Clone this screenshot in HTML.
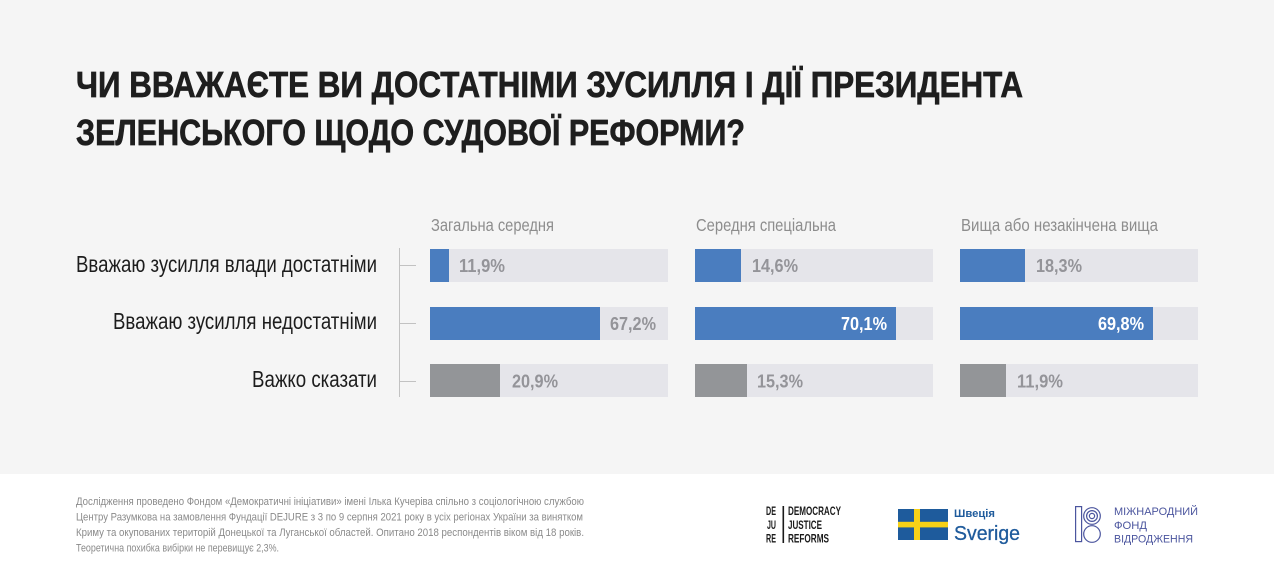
<!DOCTYPE html>
<html>
<head>
<meta charset="utf-8">
<style>
  html, body { margin: 0; padding: 0; }
  body { width: 1274px; height: 573px; overflow: hidden; background: #f5f5f5; }
  svg { display: block; }
  text { font-family: "Liberation Sans Narrow", "Liberation Sans", "DejaVu Sans", sans-serif; }
</style>
</head>
<body>
<svg width="1274" height="573" viewBox="0 0 1274 573" xmlns="http://www.w3.org/2000/svg">
  <rect x="0" y="0" width="1274" height="474" fill="#f5f5f5"/>
  <rect x="0" y="474" width="1274" height="99" fill="#ffffff"/>

  <!-- Title -->
  <g font-size="36" font-weight="bold" fill="#1e1e1e" stroke="#1e1e1e" stroke-width="0.7">
    <text x="76" y="97" textLength="947" lengthAdjust="spacingAndGlyphs">ЧИ ВВАЖАЄТЕ ВИ ДОСТАТНІМИ ЗУСИЛЛЯ І ДІЇ ПРЕЗИДЕНТА</text>
    <text x="76" y="145" textLength="669" lengthAdjust="spacingAndGlyphs">ЗЕЛЕНСЬКОГО ЩОДО СУДОВОЇ РЕФОРМИ?</text>
  </g>

  <!-- Column headers -->
  <g font-size="17.5" fill="#8d8d8d">
    <text x="431" y="231" textLength="123" lengthAdjust="spacingAndGlyphs">Загальна середня</text>
    <text x="696" y="231" textLength="140" lengthAdjust="spacingAndGlyphs">Середня спеціальна</text>
    <text x="961" y="231" textLength="197" lengthAdjust="spacingAndGlyphs">Вища або незакінчена вища</text>
  </g>

  <!-- Row labels -->
  <g font-size="23" fill="#1d1d1d">
    <text x="76" y="272" textLength="301" lengthAdjust="spacingAndGlyphs">Вважаю зусилля влади достатніми</text>
    <text x="113" y="329" textLength="264" lengthAdjust="spacingAndGlyphs">Вважаю зусилля недостатніми</text>
    <text x="252" y="387" textLength="125" lengthAdjust="spacingAndGlyphs">Важко сказати</text>
  </g>

  <!-- Axis -->
  <g stroke="#c2c2c2" stroke-width="1">
    <line x1="399.5" y1="248" x2="399.5" y2="397"/>
    <line x1="399" y1="265.5" x2="416" y2="265.5"/>
    <line x1="399" y1="323.5" x2="416" y2="323.5"/>
    <line x1="399" y1="381.5" x2="416" y2="381.5"/>
  </g>

  <!-- Tracks -->
  <g fill="#e5e5ea">
    <rect x="430" y="249" width="238" height="33"/>
    <rect x="430" y="307" width="238" height="33"/>
    <rect x="430" y="364" width="238" height="33"/>
    <rect x="695" y="249" width="238" height="33"/>
    <rect x="695" y="307" width="238" height="33"/>
    <rect x="695" y="364" width="238" height="33"/>
    <rect x="960" y="249" width="238" height="33"/>
    <rect x="960" y="307" width="238" height="33"/>
    <rect x="960" y="364" width="238" height="33"/>
  </g>

  <!-- Bars -->
  <g fill="#4a7dbf">
    <rect x="430" y="249" width="19" height="33"/>
    <rect x="430" y="307" width="170" height="33"/>
    <rect x="695" y="249" width="46" height="33"/>
    <rect x="695" y="307" width="201" height="33"/>
    <rect x="960" y="249" width="65" height="33"/>
    <rect x="960" y="307" width="193" height="33"/>
  </g>
  <g fill="#939598">
    <rect x="430" y="364" width="70" height="33"/>
    <rect x="695" y="364" width="52" height="33"/>
    <rect x="960" y="364" width="46" height="33"/>
  </g>

  <!-- Values -->
  <g font-size="18" font-weight="bold" fill="#949499">
    <text x="459" y="272" textLength="46" lengthAdjust="spacingAndGlyphs">11,9%</text>
    <text x="610" y="330" textLength="46" lengthAdjust="spacingAndGlyphs">67,2%</text>
    <text x="512" y="387.5" textLength="46" lengthAdjust="spacingAndGlyphs">20,9%</text>
    <text x="752" y="272" textLength="46" lengthAdjust="spacingAndGlyphs">14,6%</text>
    <text x="757" y="387.5" textLength="46" lengthAdjust="spacingAndGlyphs">15,3%</text>
    <text x="1036" y="272" textLength="46" lengthAdjust="spacingAndGlyphs">18,3%</text>
    <text x="1017" y="387.5" textLength="46" lengthAdjust="spacingAndGlyphs">11,9%</text>
  </g>
  <g font-size="18" font-weight="bold" fill="#ffffff">
    <text x="841" y="330" textLength="46" lengthAdjust="spacingAndGlyphs">70,1%</text>
    <text x="1098" y="330" textLength="46" lengthAdjust="spacingAndGlyphs">69,8%</text>
  </g>

  <!-- Footer text -->
  <g font-size="11" fill="#8a8a8a">
    <text x="76" y="505" textLength="508" lengthAdjust="spacingAndGlyphs">Дослідження проведено Фондом «Демократичні ініціативи» імені Ілька Кучеріва спільно з соціологічною службою</text>
    <text x="76" y="520.5" textLength="507" lengthAdjust="spacingAndGlyphs">Центру Разумкова на замовлення Фундації DEJURE з 3 по 9 серпня 2021 року в усіх регіонах України за винятком</text>
    <text x="76" y="536" textLength="508" lengthAdjust="spacingAndGlyphs">Криму та окупованих територій Донецької та Луганської областей. Опитано 2018  респондентів віком від 18 років.</text>
    <text x="76" y="551.5" textLength="203" lengthAdjust="spacingAndGlyphs">Теоретична похибка вибірки не перевищує 2,3%.</text>
  </g>

  <!-- DEJURE logo -->
  <g font-size="12" font-weight="bold" fill="#1a1a1a">
    <text x="766" y="515" textLength="10" lengthAdjust="spacingAndGlyphs">DE</text>
    <text x="767" y="529" textLength="9" lengthAdjust="spacingAndGlyphs">JU</text>
    <text x="766" y="542.5" textLength="10" lengthAdjust="spacingAndGlyphs">RE</text>
    <text x="788" y="515" textLength="53" lengthAdjust="spacingAndGlyphs">DEMOCRACY</text>
    <text x="788" y="529" textLength="34" lengthAdjust="spacingAndGlyphs">JUSTICE</text>
    <text x="788" y="542.5" textLength="41" lengthAdjust="spacingAndGlyphs">REFORMS</text>
  </g>
  <rect x="782.5" y="506" width="1.6" height="37" fill="#1a1a1a"/>

  <!-- Sweden -->
  <rect x="898" y="509" width="50" height="31" fill="#1e5b9c"/>
  <rect x="914" y="509" width="6" height="31" fill="#f7d117"/>
  <rect x="898" y="521.8" width="50" height="5.6" fill="#f7d117"/>
  <text x="954" y="517" font-size="11" font-weight="bold" fill="#1f5b9c" textLength="41" lengthAdjust="spacingAndGlyphs">Швеція</text>
  <text x="954" y="540" font-size="20" fill="#1f5b9c" stroke="#1f5b9c" stroke-width="0.3" textLength="66" lengthAdjust="spacingAndGlyphs">Sverige</text>

  <!-- International Renaissance Foundation -->
  <g fill="none" stroke="#4b559e" stroke-width="1.2">
    <rect x="1075.6" y="506.6" width="6" height="35"/>
    <circle cx="1092" cy="516" r="8.3"/>
    <circle cx="1092" cy="516" r="5.4"/>
    <circle cx="1092" cy="516" r="2.6"/>
    <circle cx="1092" cy="534" r="8.3"/>
  </g>
  <g font-size="11" fill="#4b559e">
    <text x="1114" y="515" textLength="84" lengthAdjust="spacingAndGlyphs">МІЖНАРОДНИЙ</text>
    <text x="1114" y="529" textLength="33" lengthAdjust="spacingAndGlyphs">ФОНД</text>
    <text x="1114" y="542.5" textLength="79" lengthAdjust="spacingAndGlyphs">ВІДРОДЖЕННЯ</text>
  </g>
</svg>
</body>
</html>
